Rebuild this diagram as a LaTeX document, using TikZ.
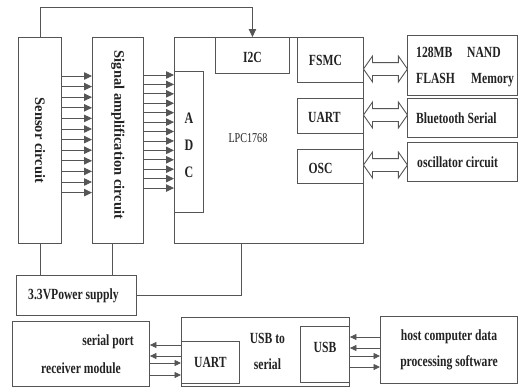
\documentclass[tikz,border=0pt]{standalone}
\usepackage{fontspec}
\setmainfont{Liberation Serif}
\newfontfamily\cnd[FakeStretch=0.75]{Liberation Serif}
\usetikzlibrary{arrows.meta,shapes.arrows,calc}
\definecolor{lc}{HTML}{555555}
\definecolor{tc}{HTML}{222222}
\begin{document}
\begin{tikzpicture}[x=1pt,y=-1pt,
  box/.style={draw=lc,line width=0.9pt,rectangle,inner sep=0pt,anchor=north west},
  lbl/.style={text=tc,inner sep=0pt,font=\cnd\bfseries\fontsize{15.5}{26}\selectfont},
  vlbl/.style={text=tc,inner sep=0pt,rotate=-90,font=\bfseries\fontsize{14.5}{16}\selectfont},
  ln/.style={draw=lc,line width=0.9pt},
  arr/.style={draw=lc,line width=0.8pt,-{Triangle[length=8pt,width=7.5pt]}},
  sarr/.style={draw=lc,line width=0.8pt,-{Triangle[length=6.5pt,width=6pt]}},
  dbl/.style={draw=lc,fill=white,line width=0.9pt,double arrow,inner xsep=0pt,inner ysep=6pt,
    minimum height=44pt,minimum width=0pt,double arrow head extend=6.5pt,
    double arrow tip angle=110}]
\useasboundingbox (0,0) rectangle (518,388);
% top row
\node[box,minimum width=43pt,minimum height=206pt,label={[vlbl]center:Sensor circuit}] (sensor) at (18,37) {};
\node[box,minimum width=51pt,minimum height=206pt,label={[vlbl,xshift=-5.5pt]center:Signal amplification circuit}] (signal) at (92,37) {};
\node[box,minimum width=189pt,minimum height=206pt,label={[text=tc,inner sep=0pt,font=\cnd\fontsize{13.5}{15}\selectfont,xshift=-21pt,yshift=2pt]center:LPC1768}] (lpc) at (174,37) {};
\node[box,minimum width=29pt,minimum height=141pt,label={[lbl,align=center,font=\cnd\bfseries\fontsize{16}{27}\selectfont,yshift=-3pt]center:A\\D\\C}] (adc) at (174,71) {};
\node[box,minimum width=74pt,minimum height=36pt,label={[lbl,yshift=-2pt]center:I2C}] (i2c) at (215,37) {};
\node[box,minimum width=66pt,minimum height=45pt,label={[lbl,xshift=-5pt]center:FSMC}] (fsmc) at (297,37) {};
\node[box,minimum width=66pt,minimum height=35pt,label={[lbl,xshift=-6pt,yshift=-1.5pt]center:UART}] (uarta) at (297,98) {};
\node[box,minimum width=66pt,minimum height=34pt,label={[lbl,xshift=-10pt,yshift=-2pt]center:OSC}] (osc) at (297,149) {};
\node[box,minimum width=110pt,minimum height=60pt,label={[lbl,anchor=west,align=left,xshift=9pt,yshift=-1.5pt]west:\makebox[51pt][l]{128MB}NAND\\\makebox[55pt][l]{FLASH}Memory}] (flash) at (407,35) {};
\node[box,minimum width=110pt,minimum height=39pt,label={[lbl,anchor=west,xshift=9pt]west:Bluetooth Serial}] (bt) at (407,98) {};
\node[box,minimum width=110pt,minimum height=39pt,label={[lbl,anchor=west,xshift=10pt]west:oscillator circuit}] (oscc) at (407,142) {};
\node[box,minimum width=120pt,minimum height=40pt,label={[lbl,xshift=-3pt]center:3.3VPower supply}] (power) at (16,275) {};
% bottom row
\node[box,minimum width=137pt,minimum height=65pt,
  label={[lbl,xshift=27pt,yshift=12.5pt]center:serial port},
  label={[lbl,yshift=-14.5pt]center:receiver module}] (recv) at (12,321) {};
\node[box,minimum width=168pt,minimum height=69pt,label={[lbl,align=center,xshift=2pt,yshift=1pt]center:USB to\\serial}] (usbser) at (181,317) {};
\node[box,minimum width=58pt,minimum height=42pt,label={[lbl]center:UART}] (uartb) at (181,341) {};
\node[box,minimum width=49pt,minimum height=56pt,label={[lbl,yshift=7pt]center:USB}] (usb) at (300,326) {};
\node[box,minimum width=137pt,minimum height=67pt,label={[lbl,align=center]center:host computer data\\processing software}] (host) at (380,316) {};
% feedback to I2C
\coordinate (fb) at (0,7);
\draw[arr] (sensor.north) -- (sensor.north |- fb) -| (i2c.north);
% power lines
\draw[ln] (sensor.south) -- (sensor.south |- power.north);
\draw[ln] ([xshift=-5.5pt]signal.south) -- ([xshift=-5.5pt]signal.south |- power.north);
\coordinate (pw) at (241,296);
\draw[ln] (lpc.south -| pw) |- (power.east);
% arrow bundles
\foreach \i in {0,...,11}{
  \pgfmathsetmacro\yy{76+10.6*\i}
  \draw[arr] (sensor.east |- 0,\yy) -- (signal.west |- 0,\yy);
}
\foreach \i in {0,...,12}{
  \pgfmathsetmacro\yy{75+9.42*\i}
  \draw[arr] (signal.east |- 0,\yy) -- (lpc.west |- 0,\yy);
}
% double arrows
\node[dbl] (da) at ($(fsmc.east |- 0,69)!0.5!(flash.west |- 0,69)$) {};
\node[dbl] (db) at ($(uarta.east |- 0,115)!0.5!(bt.west |- 0,115)$) {};
\node[dbl] (dc) at ($(osc.east |- 0,165)!0.5!(oscc.west |- 0,165)$) {};
% bottom arrows
\foreach \y in {345,356} \draw[sarr] (uartb.west |- 0,\y) -- (recv.east |- 0,\y);
\foreach \y in {363,375} \draw[sarr] (recv.east |- 0,\y) -- (uartb.west |- 0,\y);
\foreach \y in {337,348} \draw[sarr] (host.west |- 0,\y) -- (usb.east |- 0,\y);
\foreach \y in {356,367} \draw[sarr] (usb.east |- 0,\y) -- (host.west |- 0,\y);
\end{tikzpicture}
\end{document}
